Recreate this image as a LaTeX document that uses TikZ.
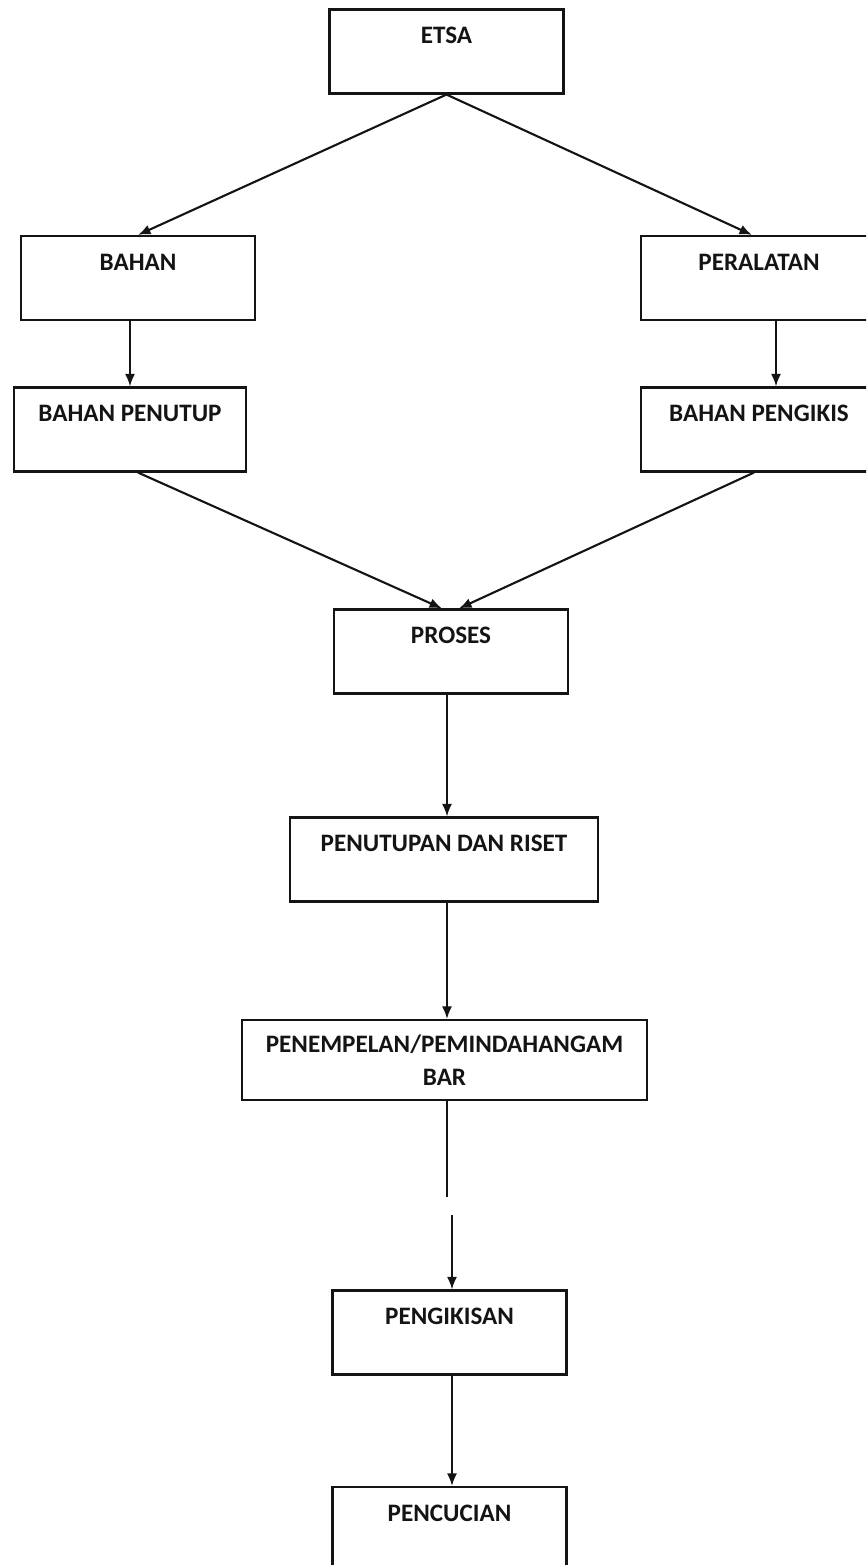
\documentclass[tikz,border=0pt]{standalone}
\usepackage{fontspec}
\setmainfont{Carlito}
\usetikzlibrary{calc,arrows.meta}
\definecolor{garis}{rgb}{0.08,0.08,0.08}
\newcommand{\judul}{\fontsize{14.3}{18.7}\selectfont\bfseries}

\begin{document}
\begin{tikzpicture}[x=0.02cm,y=-0.02cm,
    kotak/.style={draw=garis,line width=1.2pt,inner xsep=0pt,inner ysep=0pt,
      minimum width=4.68cm,text height=0.68cm,text depth=1.0cm,
      font=\judul,text=garis},
    panah/.style={garis,line width=1.2pt,-{Latex[length=0.25cm,width=0.2cm]}}]
    \useasboundingbox (0,0) rectangle (866,1565);
    \clip (0,0) rectangle (866,1565);

    \node[kotak] (etsa)     at (446.5,51.5) {ETSA};
    \node[kotak] (bahan)    at (138,278)    {BAHAN};
    \node[kotak,minimum width=4.72cm] (alat) at (759,278) {PERALATAN};
    \node[kotak,minimum width=4.64cm] (penutup) at (130,429.5) {BAHAN PENUTUP};
    \node[kotak,minimum width=4.72cm] (pengikis) at (759,429.5) {BAHAN PENGIKIS};
    \node[kotak] (proses)   at (451,651.5)  {PROSES};
    \node[kotak,minimum width=6.16cm] (riset) at (444,859.5) {PENUTUPAN DAN RISET};
    \node[kotak,minimum width=8.1cm,minimum height=1.6cm,text height=,text depth=,
      align=center] (tempel) at (444.5,1060) {PENEMPELAN/PEMINDAHANGAM\\BAR};
    \node[kotak] (kikis)    at (449.5,1332.5) {PENGIKISAN};
    \node[kotak] (cuci)     at (449.5,1529) {PENCUCIAN};

    % ujung garis yang terputus
    \coordinate (putus1) at (447,1197);
    \coordinate (putus2) at (452,1215);

    \draw[panah] (etsa.south) -- (bahan.north);
    \draw[panah] (etsa.south) -- ([xshift=-0.14cm]alat.north);
    \draw[panah] (bahan.south -| penutup.north) -- (penutup.north);
    \draw[panah] ([xshift=0.34cm]alat.south) -- ([xshift=0.34cm]pengikis.north);
    \draw[panah] ([xshift=0.16cm]penutup.south) -- ([xshift=-0.18cm]proses.north);
    \draw[panah] ([xshift=-0.1cm]pengikis.south) -- ([xshift=0.16cm]proses.north);
    \foreach \a/\b in {proses/riset,riset/tempel}{% panah lurus ke bawah
      \draw[panah] (\a.south -| putus1) -- (\b.north -| putus1);
    }
    \draw[garis,line width=1.2pt] (tempel.south -| putus1) -- (putus1);
    \draw[panah] (putus2) -- (kikis.north -| putus2);
    \draw[panah] (kikis.south -| putus2) -- (cuci.north -| putus2);

\end{tikzpicture}
\end{document}
